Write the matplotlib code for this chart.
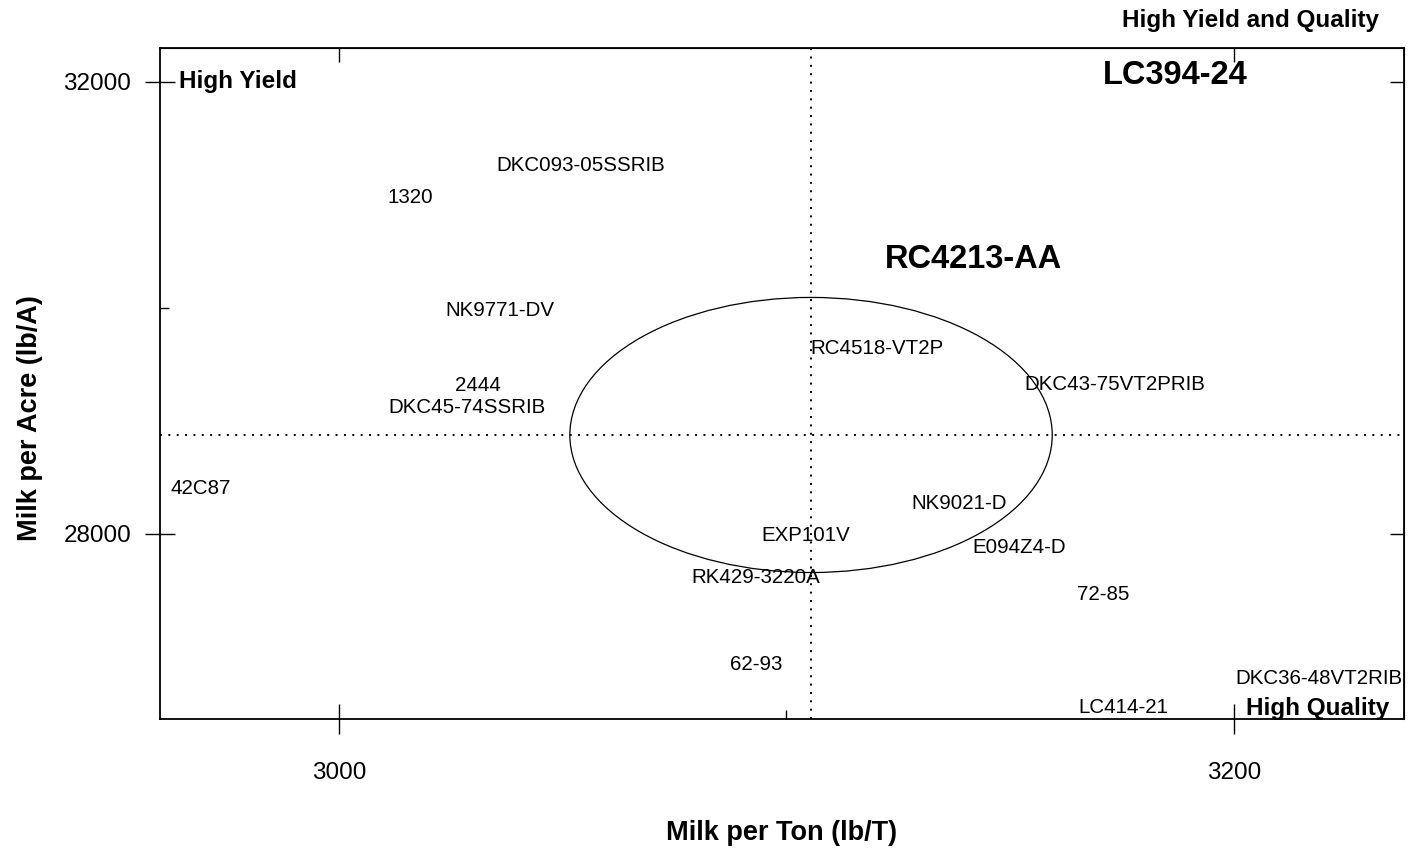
import matplotlib
matplotlib.use('Agg')
import matplotlib.pyplot as plt
from matplotlib.patches import Ellipse

hybrids = ['DKC093-05SSRIB', '1320', 'RC4213-AA', 'LC394-24', 'NK9771-DV',
           'RC4518-VT2P', '2444', 'DKC43-75VT2PRIB', 'DKC45-74SSRIB', '42C87',
           'NK9021-D', 'EXP101V', 'E094Z4-D', 'RK429-3220A', '72-85', '62-93',
           'DKC36-48VT2RIB', 'LC414-21']
milk_ton = [3054.1, 3015.9, 3141.9, 3187.0, 3036.0,
            3120.2, 3031.1, 3173.4, 3028.6, 2969.2,
            3138.5, 3104.4, 3152.0, 3093.2, 3170.7, 3093.2,
            3219.0, 3175.4]
milk_acre = [31254, 30971, 30423, 32049, 29972,
             29636, 29309, 29317, 29114, 28398,
             28265, 27982, 27876, 27611, 27461, 26842,
             26718, 26470]
highlight = ['RC4213-AA', 'LC394-24']

mean_ton = 3105.5
mean_acre = 28875
ell_ton = 107.8    # full width of ellipse
ell_acre = 2432    # full height of ellipse

plt.rcParams['font.family'] = ['Liberation Sans', 'DejaVu Sans']

fig = plt.figure(figsize=(14.18, 8.5), dpi=100)
ax = fig.add_axes([0.1128, 0.1541, 0.8773, 0.7898])

for n, x, y in zip(hybrids, milk_ton, milk_acre):
    if n in highlight:
        ax.text(x, y, n, ha='center', va='center', fontsize=23.5, fontweight='bold')
    else:
        ax.text(x, y, n, ha='center', va='center', fontsize=14.8)

ax.axvline(mean_ton, color='black', lw=1.4, ls=(0, (1, 3.3)))
ax.axhline(mean_acre, color='black', lw=1.4, ls=(0, (1, 3.3)))
ax.add_patch(Ellipse((mean_ton, mean_acre), ell_ton, ell_acre, fill=False,
                     edgecolor='black', lw=0.9))

ax.set_xlim(2960, 3238)
ax.set_ylim(26364, 32299)

ax.set_xticks([3000, 3200])
ax.set_xticks([3100], minor=True)
ax.set_yticks([28000, 32000])
ax.set_yticks([30000], minor=True)
ax.tick_params(which='major', direction='inout', length=21.6, width=1.0,
               labelsize=17.5, pad=10)
ax.tick_params(axis='x', which='major', pad=20)
ax.tick_params(which='minor', direction='in', length=6.5, width=1.0)
for s in ax.spines.values():
    s.set_linewidth(1.3)

top = ax.secondary_xaxis('top')
top.set_xticks([3000, 3200])
top.tick_params(direction='in', length=10, width=1.0, labeltop=False)
right = ax.secondary_yaxis('right')
right.set_yticks([28000, 32000])
right.tick_params(direction='in', length=10, width=1.0, labelright=False)

ax.set_xlabel('Milk per Ton (lb/T)', fontsize=19.5, fontweight='bold', labelpad=26)
fig.text(0.021, 1 - 418 / 850, 'Milk per Acre (lb/A)', rotation=90, fontsize=19.5,
         fontweight='bold', ha='center', va='center')

ax.text(0.015, 0.95, 'High Yield', transform=ax.transAxes, fontsize=17.5,
        fontweight='bold', ha='left', va='center')
ax.text(0.980, 1.04, 'High Yield and Quality', transform=ax.transAxes, fontsize=17.5,
        fontweight='bold', ha='right', va='center', clip_on=False)
ax.text(0.988, 0.016, 'High Quality', transform=ax.transAxes, fontsize=17.5,
        fontweight='bold', ha='right', va='center')

fig.savefig('out.png', dpi=100)
